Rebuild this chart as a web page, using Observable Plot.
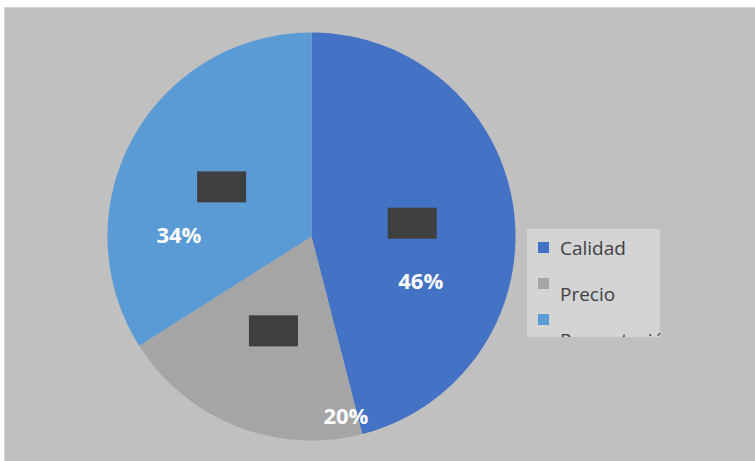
<!DOCTYPE html>
<html>
<head>
<meta charset="utf-8">
<script src="https://cdn.jsdelivr.net/npm/d3@7"></script>
<script src="https://cdn.jsdelivr.net/npm/@observablehq/plot@0.6"></script>
<style>
  body { margin: 0; background: #ffffff; }
  #wrap { position: relative; width: 755px; height: 461px; overflow: hidden; }
  #legend { position: absolute; left: 527px; top: 229px; width: 133px; height: 108px; overflow: hidden;
            background: #d4d4d4; font-family: "Open Sans", sans-serif; font-size: 19px; color: #404040; }
  .sw { position: absolute; left: 11px; width: 11px; height: 11px; }
  .lt { position: absolute; left: 33px; line-height: 1; white-space: nowrap; }
</style>
</head>
<body>
<div id="wrap"></div>
<script>
// ---- data ----
const categories = ["Calidad", "Precio", "Presentación"];
const shares = [46, 20, 34];
const labels = ["46%", "20%", "34%"];
const colors = ["#4472c4", "#a5a5a5", "#5b9bd5"];
// manual label placement (position within slice as fraction of its angle, radius fraction)
const labelAnglePos = [0.68, 0.05, 0.265];
const labelRadius = [0.58, 0.9, 0.65];

// ---- build slices via d3.pie ----
const arcs = d3.pie().sort(null).value(d => d.v)(categories.map((c, i) => ({c, v: shares[i]})));
const polys = [];
arcs.forEach(a => {
  const name = a.data.c;
  polys.push({name, x: 0, y: 0});
  const n = 120;
  for (let k = 0; k <= n; k++) {
    const t = a.startAngle + (a.endAngle - a.startAngle) * k / n;
    polys.push({name, x: Math.sin(t), y: Math.cos(t)});
  }
  polys.push({name, x: 0, y: 0});
});
const mids = arcs.map(a => (a.startAngle + a.endAngle) / 2);
const boxes = arcs.map((a, i) => ({name: a.data.c, x: 0.5 * Math.sin(mids[i]), y: 0.5 * Math.cos(mids[i])}));
const lbls = arcs.map((a, i) => {
  const t = a.startAngle + (a.endAngle - a.startAngle) * labelAnglePos[i];
  return {text: labels[i], x: labelRadius[i] * Math.sin(t), y: labelRadius[i] * Math.cos(t)};
});

const R = 204;
const bw = 24.5 / R, bh = 15.5 / R;

const plot = Plot.plot({
  width: 755, height: 461,
  marginTop: 7, marginLeft: 4, marginRight: 0, marginBottom: 0,
  x: {domain: [-1, 1], range: [107, 515], axis: null},
  y: {domain: [-1, 1], range: [440, 32], axis: null},
  color: {domain: categories, range: colors},
  style: {background: "transparent"},
  marks: [
    Plot.frame({fill: "#c0c0c0", stroke: "#d6d6d6"}),
    Plot.line(polys, {x: "x", y: "y", z: "name", fill: "name", stroke: "none", curve: "linear"}),
    Plot.rect(boxes, {x1: d => d.x - bw, x2: d => d.x + bw, y1: d => d.y - bh, y2: d => d.y + bh,
      fill: "#3f3f3f", style: {filter: "drop-shadow(3px 3px 3px rgba(0,0,0,0.45))"}}),
    Plot.text(lbls, {x: "x", y: "y", text: "text", fill: "white", fontSize: 22, fontWeight: "bold",
      fontFamily: "Open Sans, sans-serif"})
  ]
});
const wrap = document.getElementById("wrap");
wrap.appendChild(plot);

// legend
const legend = document.createElement("div");
legend.id = "legend";
const swTops = [13, 49, 85];
const txTops = [10, 56, 102];
categories.forEach((c, i) => {
  const s = document.createElement("div");
  s.className = "sw"; s.style.top = swTops[i] + "px"; s.style.background = colors[i];
  legend.appendChild(s);
  const t = document.createElement("div");
  t.className = "lt"; t.style.top = txTops[i] + "px"; t.textContent = c;
  legend.appendChild(t);
});
wrap.appendChild(legend);
</script>
</body>
</html>
